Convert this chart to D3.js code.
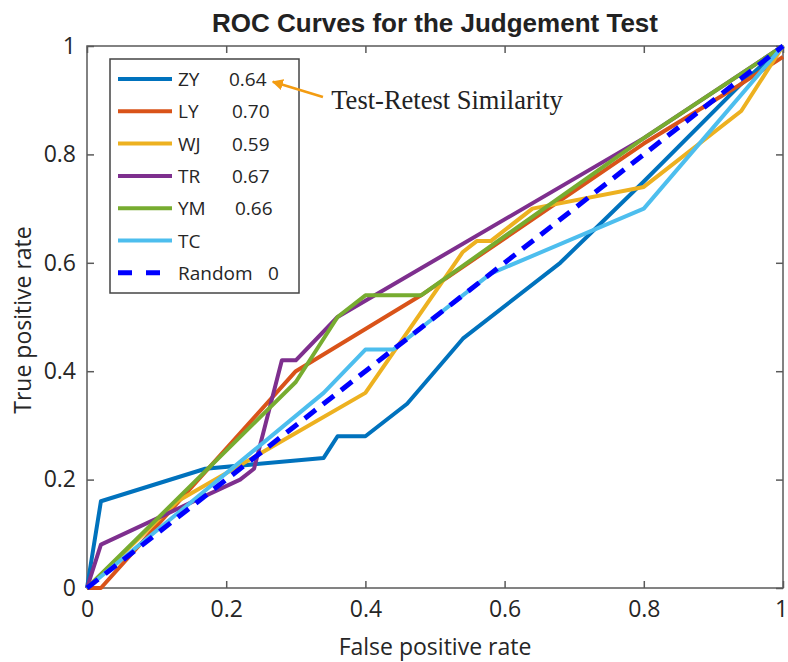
<!DOCTYPE html>
<html><head><meta charset="utf-8">
<script src="https://cdn.jsdelivr.net/npm/d3@7"></script>
<style>body{margin:0;background:#fff}svg{display:block}</style>
</head><body>
<script>
const seriesNames = ["ZY","LY","WJ","TR","YM","TC","Random"];
const seriesLabels = ["0.64","0.70","0.59","0.67","0.66","","0"];
const colors = ["#0072BD","#D95319","#EDB120","#7E2F8E","#77AC30","#4DBEEE","#0000FF"];
const ZY = [[0,0],[0.02,0.16],[0.17,0.22],[0.34,0.24],[0.36,0.28],[0.40,0.28],[0.46,0.34],[0.54,0.46],[0.68,0.60],[0.80,0.75],[0.94,0.93],[1,1]];
const LY = [[0,0],[0.02,0],[0.30,0.40],[0.48,0.54],[0.80,0.82],[0.94,0.93],[1,0.98]];
const WJ = [[0,0],[0.13,0.16],[0.40,0.36],[0.54,0.62],[0.56,0.64],[0.58,0.64],[0.64,0.70],[0.80,0.74],[0.94,0.88],[1,1]];
const TR = [[0,0],[0.02,0.08],[0.22,0.20],[0.24,0.22],[0.28,0.42],[0.30,0.42],[0.36,0.50],[0.80,0.83],[1,1]];
const YM = [[0,0],[0.30,0.38],[0.36,0.50],[0.40,0.54],[0.48,0.54],[0.80,0.83],[1,1]];
const TC = [[0,0],[0.34,0.36],[0.40,0.44],[0.44,0.44],[0.58,0.58],[0.80,0.70],[1,1]];
const RANDOM = [[0,0],[1,1]];
const xTicks = [0,0.2,0.4,0.6,0.8,1];
const yTicks = [0,0.2,0.4,0.6,0.8,1];
const allSeries = [ZY,LY,WJ,TR,YM,TC,RANDOM];

const W=788,H=662;
const m={l:87,r:5,t:46,b:74};
const svg=d3.select("body").append("svg").attr("width",W).attr("height",H);
const x=d3.scaleLinear().domain([0,1]).range([m.l,W-m.r]);
const y=d3.scaleLinear().domain([0,1]).range([H-m.b,m.t]);
const sans="'Open Sans','Noto Sans',sans-serif";
const axisCol="#5a5a5a", txtCol="#262626";

// title
svg.append("text").attr("x",(x(0)+x(1))/2).attr("y",32).attr("text-anchor","middle")
  .attr("font-family","'Liberation Sans',Arial,sans-serif").attr("font-weight","bold").attr("font-size",26)
  .attr("fill","#222").text("ROC Curves for the Judgement Test");

// axes
const fmt=d=>d===0?"0":d===1?"1":d3.format(".1f")(d);
function styleAxis(g){g.select(".domain").remove();g.selectAll("line").attr("stroke",axisCol).attr("stroke-width",1.5);
  g.selectAll("text").attr("font-family",sans).attr("font-size",23).attr("fill",txtCol);}
const gx=svg.append("g").attr("transform",`translate(0,${y(0)})`).call(d3.axisBottom(x).tickValues(xTicks).tickFormat(fmt).tickSizeInner(-7).tickSizeOuter(0).tickPadding(13)).call(styleAxis);
gx.selectAll(".tick").filter(d=>d===1).select("text").attr("dx",-2);
svg.append("g").attr("transform",`translate(${x(0)},0)`).call(d3.axisLeft(y).tickValues(yTicks).tickFormat(fmt).tickSizeInner(-7).tickSizeOuter(0).tickPadding(11)).call(styleAxis);
svg.append("g").attr("transform",`translate(0,${y(1)})`).call(d3.axisTop(x).tickValues(xTicks).tickFormat("").tickSizeInner(-7).tickSizeOuter(0)).call(styleAxis);
svg.append("g").attr("transform",`translate(${x(1)},0)`).call(d3.axisRight(y).tickValues(yTicks).tickFormat("").tickSizeInner(-7).tickSizeOuter(0)).call(styleAxis);
svg.append("rect").attr("x",x(0)).attr("y",y(1)).attr("width",x(1)-x(0)).attr("height",y(0)-y(1))
  .attr("fill","none").attr("stroke",axisCol).attr("stroke-width",1.5);

// axis labels
svg.append("text").attr("x",(x(0)+x(1))/2).attr("y",655).attr("text-anchor","middle")
  .attr("font-family",sans).attr("font-size",23).attr("fill",txtCol).text("False positive rate");
svg.append("text").attr("transform",`translate(31,${(y(0)+y(1))/2+3}) rotate(-90)`).attr("text-anchor","middle")
  .attr("font-family",sans).attr("font-size",23).attr("fill",txtCol).text("True positive rate");

// lines
const line=d3.line().x(d=>x(d[0])).y(d=>y(d[1]));
const plot=svg.append("g");
allSeries.forEach((s,i)=>{
  plot.append("path").datum(s).attr("d",line).attr("fill","none").attr("stroke",colors[i])
    .attr("stroke-width",i===6?5:4).attr("stroke-linejoin","round")
    .attr("stroke-dasharray",i===6?"14,9":null);
});

// legend
const lg=svg.append("g");
lg.append("rect").attr("x",110).attr("y",59).attr("width",189).attr("height",234)
  .attr("fill","#fff").attr("stroke","#444").attr("stroke-width",1.5);
seriesNames.forEach((n,i)=>{
  const yy=79+i*32.3;
  lg.append("line").attr("x1",118).attr("x2",172).attr("y1",yy).attr("y2",yy)
    .attr("stroke",colors[i]).attr("stroke-width",i===6?5:4).attr("stroke-dasharray",i===6?"14,14":null);
  lg.append("text").attr("x",178).attr("y",yy+7).attr("font-family",sans).attr("font-size",19).attr("fill",txtCol).text(n);
  if(seriesLabels[i]!==""){
    const lx = i===0?229:(i===4?235:(i===6?268:232));
    lg.append("text").attr("x",lx).attr("y",yy+7).attr("font-family",sans).attr("font-size",19).attr("fill",txtCol).text(seriesLabels[i]);
  }
});

// annotation
const ann="#F39C12";
svg.append("defs").append("marker").attr("id","ah").attr("viewBox","0 0 10 10").attr("refX",9).attr("refY",5)
  .attr("markerWidth",4.5).attr("markerHeight",4.5).attr("orient","auto")
  .append("path").attr("d","M0,0 L10,5 L0,10 Z").attr("fill",ann);
svg.append("line").attr("x1",x(0.339)).attr("y1",y(0.906)).attr("x2",x(0.267)).attr("y2",y(0.934))
  .attr("stroke",ann).attr("stroke-width",2.5).attr("marker-end","url(#ah)");
svg.append("text").attr("x",x(0.351)).attr("y",y(0.884)).attr("font-family","'Liberation Serif','Times New Roman',serif")
  .attr("font-size",26.5).attr("fill","#222").text("Test-Retest Similarity");
</script>
</body></html>
